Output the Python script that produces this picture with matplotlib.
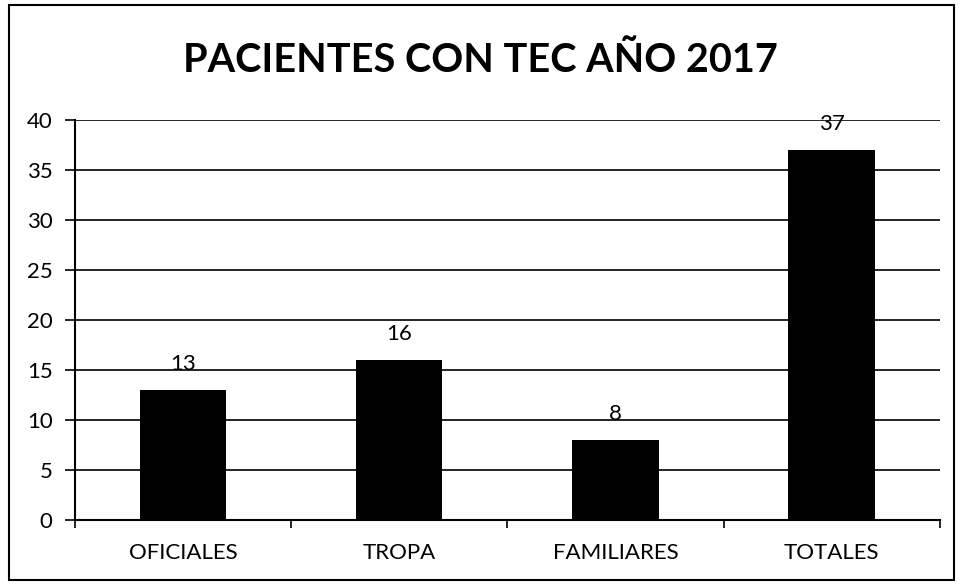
import numpy as np
import matplotlib
matplotlib.use('Agg')
import matplotlib.pyplot as plt
from matplotlib.patches import Rectangle

categories = ['OFICIALES', 'TROPA', 'FAMILIARES', 'TOTALES']
values = [13, 16, 8, 37]
y_ticks = [0, 5, 10, 15, 20, 25, 30, 35, 40]

plt.rcParams['font.family'] = ['Lato', 'DejaVu Sans']

fig = plt.figure(figsize=(9.6, 5.84), dpi=100)
ax = fig.add_axes([0.078, 0.110, 0.901, 0.685])

x = np.arange(len(categories))
bars = ax.bar(x, values, width=0.4, color='black', zorder=3)

# value labels over the bars
for b, v in zip(bars, values):
    ax.annotate(str(v), (b.get_x() + b.get_width() / 2, v), xytext=(0, 11),
                textcoords='offset points', ha='center', va='bottom', fontsize=16)

ax.set_xlim(-0.5, len(categories) - 0.5)
ax.set_ylim(0, 40)
ax.set_yticks(y_ticks)
ax.yaxis.grid(True, color='black', linewidth=1.2, zorder=0)
ax.set_axisbelow(True)

# category boundary ticks on the x axis
ax.set_xticks(x)
ax.set_xticklabels(categories, fontsize=16)
ax.tick_params(axis='x', length=0, pad=17)
ax.set_xticks(np.arange(-0.5, len(categories)), minor=True)
ax.tick_params(axis='x', which='minor', length=6, width=1.2, direction='out')
ax.tick_params(axis='y', length=7, width=1.2, labelsize=16, pad=9)

for s in ['top', 'right']:
    ax.spines[s].set_visible(False)
ax.spines['left'].set_linewidth(1.5)
ax.spines['bottom'].set_linewidth(1.5)

fig.text(0.5, 0.897, 'PACIENTES CON TEC AÑO 2017', ha='center', va='center',
         fontsize=28.5, fontweight='bold')

# frame around the whole chart
fig.patches.append(Rectangle((0.009, 0.007), 0.985, 0.985, transform=fig.transFigure,
                             fill=False, edgecolor='black', linewidth=1.5))

plt.savefig('out.png', dpi=100)
